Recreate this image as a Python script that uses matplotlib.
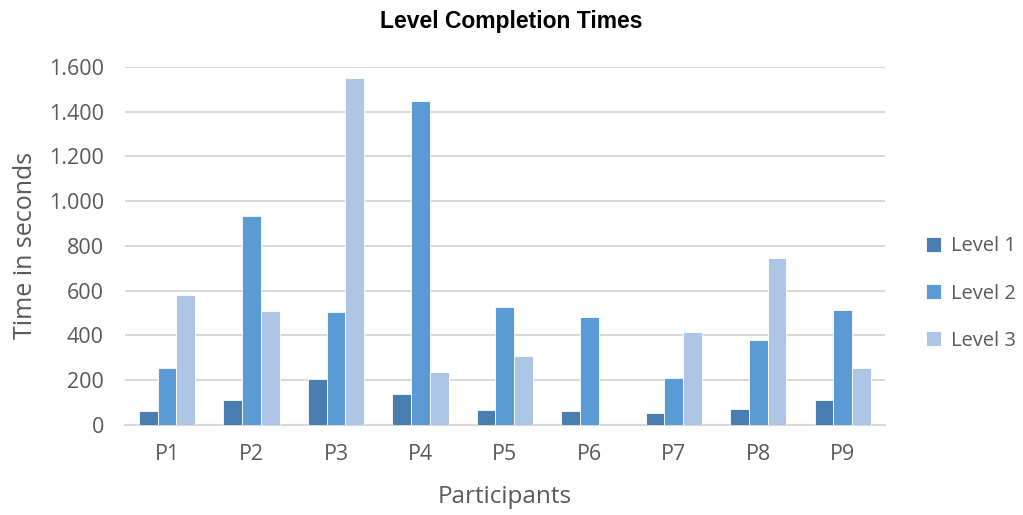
import matplotlib
matplotlib.use("Agg")
import matplotlib.pyplot as plt
from matplotlib.ticker import FuncFormatter, MultipleLocator
import numpy as np

# data
participants = ["P1", "P2", "P3", "P4", "P5", "P6", "P7", "P8", "P9"]
level1 = [60, 109, 204, 140, 67, 64, 55, 70, 110]
level2 = [253, 932, 506, 1449, 528, 484, 208, 379, 512]
level3 = [580, 507, 1552, 237, 310, 0, 414, 744, 253]
series_names = ["Level 1", "Level 2", "Level 3"]
colors = ["#4A7EB0", "#5B9BD5", "#ADC6E5"]

plt.rcParams['font.family'] = ['Open Sans', 'DejaVu Sans']
grey = "#595959"

fig = plt.figure(figsize=(10.23, 5.15), dpi=100)
ax = fig.add_axes([0.122, 0.175, 0.743, 0.695])

x = np.arange(len(participants))
w = 0.222
for i, (vals, name, c) in enumerate(zip([level1, level2, level3], series_names, colors)):
    ax.bar(x + (i - 1) * w, vals, width=w, color=c, edgecolor="white",
           linewidth=0.6, label=name, zorder=3)

ax.set_xlim(-0.5, 8.5)
ax.set_ylim(0, 1600)
ax.yaxis.set_major_locator(MultipleLocator(200))
ax.yaxis.set_major_formatter(FuncFormatter(lambda v, p: f"{int(v):,}".replace(",", ".")))
ax.set_xticks(x)
ax.set_xticklabels(participants)
ax.grid(axis="y", color="#D9D9D9", linewidth=1.5, zorder=0)
for s in ["top", "right", "left"]:
    ax.spines[s].set_visible(False)
ax.spines["bottom"].set_color("#D9D9D9")
ax.spines["bottom"].set_linewidth(1.5)
ax.tick_params(axis="both", length=0, labelsize=15.5, colors=grey)
ax.tick_params(axis="x", pad=14)
ax.tick_params(axis="y", pad=15)

ax.set_xlabel("Participants", fontsize=17.5, color=grey, labelpad=14)
ax.set_ylabel("Time in seconds", fontsize=18, color=grey, labelpad=8)
fig.text(0.5, 0.958, "Level Completion Times", ha="center", va="center",
         fontsize=16.5, fontweight="bold", family="Liberation Sans", color="black")

leg = fig.legend(loc="center left", bbox_to_anchor=(0.905, 0.43), frameon=False,
                 fontsize=14.5, labelcolor=grey, handlelength=0.75, handleheight=0.75,
                 labelspacing=1.35, handletextpad=0.5, borderpad=0, borderaxespad=0)

fig.savefig("out.png", dpi=100)
